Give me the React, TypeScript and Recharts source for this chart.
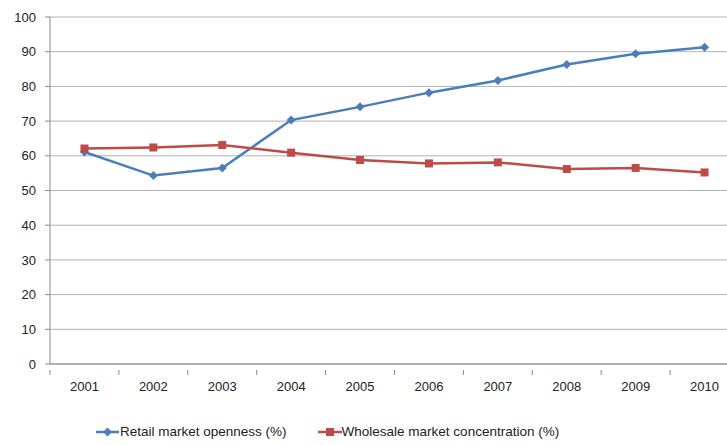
import React from 'react';
import { LineChart, Line, XAxis, YAxis, CartesianGrid, Legend } from 'recharts';

const years = ['2001', '2002', '2003', '2004', '2005', '2006', '2007', '2008', '2009', '2010'];
const retailOpenness = [61.1, 54.3, 56.5, 70.3, 74.1, 78.2, 81.7, 86.3, 89.4, 91.3];
const wholesaleConcentration = [62.1, 62.4, 63.1, 60.9, 58.8, 57.8, 58.1, 56.2, 56.5, 55.2];
const yTicks = [0, 10, 20, 30, 40, 50, 60, 70, 80, 90, 100];

const BLUE = '#4A7EBB';
const RED = '#BE4B48';
const GRID = '#B3B3B3';
const AXIS = '#898989';
const FONT = '"Liberation Sans", Arial, sans-serif';
const HALF_BAND = 34.45;

const data = years.map((year, i) => ({
  year,
  retail: retailOpenness[i],
  wholesale: wholesaleConcentration[i],
}));

const Diamond = ({ cx, cy }: any) => {
  if (cx == null || cy == null) return null;
  const r = 4.5;
  return (
    <path
      d={`M${cx},${cy - r}L${cx + r},${cy}L${cx},${cy + r}L${cx - r},${cy}Z`}
      fill={BLUE}
    />
  );
};

const Square = ({ cx, cy }: any) => {
  if (cx == null || cy == null) return null;
  const s = 8;
  return <rect x={cx - s / 2} y={cy - s / 2} width={s} height={s} fill={RED} />;
};

// year labels sit mid-band, the small tick marks sit on the band edges
const YearTick = ({ x, y, payload }: any) => (
  <g>
    <line x1={x - HALF_BAND} y1={y - 2} x2={x - HALF_BAND} y2={y + 3} stroke={AXIS} />
    <text x={x} y={y + 19} textAnchor="middle" fontSize={13} fontFamily={FONT} fill="#222">
      {payload.value}
    </text>
  </g>
);

const LegendContent = () => (
  <div
    style={{
      display: 'flex',
      alignItems: 'center',
      fontFamily: FONT,
      fontSize: 13.5,
      color: '#222',
      paddingLeft: 96,
    }}
  >
    <svg width={24} height={10}>
      <line x1={0} y1={5} x2={23} y2={5} stroke={BLUE} strokeWidth={2.5} />
      <path d="M11.5,0.5L16,5L11.5,9.5L7,5Z" fill={BLUE} />
    </svg>
    <span>Retail market openness (%)</span>
    <svg width={24} height={10} style={{ marginLeft: 31 }}>
      <line x1={0} y1={5} x2={24} y2={5} stroke={RED} strokeWidth={2.5} />
      <rect x={8} y={1} width={8} height={8} fill={RED} />
    </svg>
    <span>Wholesale market concentration (%)</span>
  </div>
);

export default function App() {
  return (
    <div
      style={{
        position: 'absolute',
        left: 0,
        top: 0,
        width: 727,
        height: 445,
        overflow: 'hidden',
        background: '#fff',
      }}
    >
      <LineChart
        width={750}
        height={445}
        data={data}
        margin={{ top: 17, right: 11, left: 0, bottom: 0 }}
      >
        <CartesianGrid vertical={false} stroke={GRID} />
        <XAxis
          dataKey="year"
          height={66}
          padding={{ left: HALF_BAND, right: HALF_BAND }}
          axisLine={{ stroke: AXIS }}
          tickLine={false}
          tick={<YearTick />}
          interval={0}
        />
        <YAxis
          domain={[0, 100]}
          ticks={yTicks}
          width={50}
          axisLine={{ stroke: AXIS }}
          tickLine={{ stroke: AXIS }}
          tickSize={5}
          tickMargin={9}
          tick={{ fontSize: 13, fontFamily: FONT, fill: '#222' }}
          interval={0}
        />
        <Legend
          content={<LegendContent />}
          wrapperStyle={{ position: 'absolute', left: 0, top: 424, width: 727 }}
        />
        <Line
          dataKey="retail"
          name="Retail market openness (%)"
          stroke={BLUE}
          strokeWidth={2.5}
          dot={<Diamond />}
          activeDot={false}
          isAnimationActive={false}
        />
        <Line
          dataKey="wholesale"
          name="Wholesale market concentration (%)"
          stroke={RED}
          strokeWidth={2.5}
          dot={<Square />}
          activeDot={false}
          isAnimationActive={false}
        />
      </LineChart>
    </div>
  );
}
